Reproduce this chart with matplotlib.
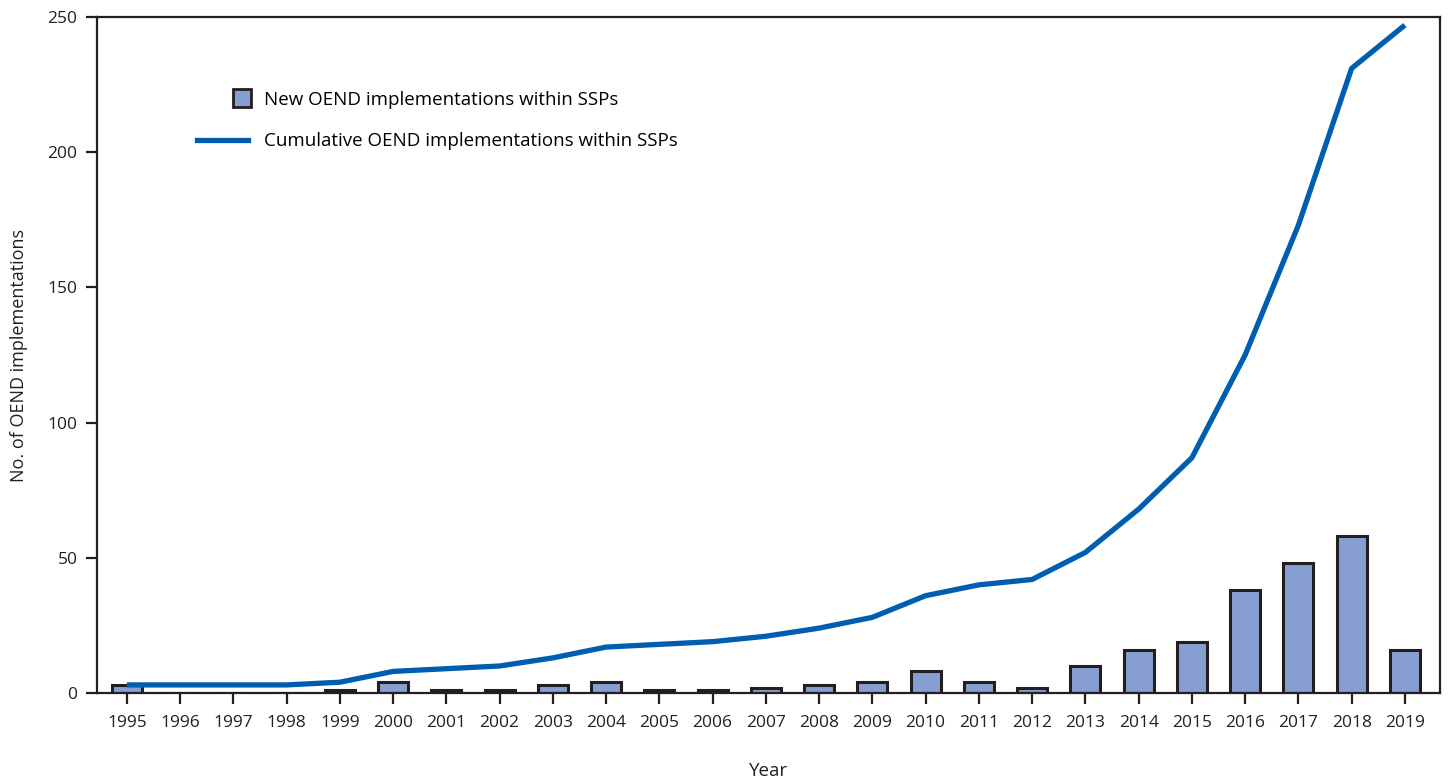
import matplotlib.pyplot as plt
from matplotlib.lines import Line2D
import numpy as np

plt.rcParams['font.family'] = ['Open Sans', 'DejaVu Sans']

years = list(range(1995, 2020))
new_impl = [3, 0, 0, 0, 1, 4, 1, 1, 3, 4, 1, 1, 2, 3, 4, 8, 4, 2, 10, 16, 19, 38, 48, 58, 16]
cumulative = [3, 3, 3, 3, 4, 8, 9, 10, 13, 17, 18, 19, 21, 24, 28, 36, 40, 42, 52, 68, 87, 125, 173, 231, 247]

bar_color = '#869fd0'
edge_color = '#231f20'
line_color = '#005eb0'

fig = plt.figure(figsize=(14.48, 7.8), dpi=100)
ax = fig.add_axes([0.067, 0.1115, 0.9275, 0.8667])

ax.bar(years, new_impl, width=0.56, color=bar_color, edgecolor=edge_color, linewidth=2.2, zorder=2)
ax.plot(years, cumulative, color=line_color, linewidth=3.8, zorder=3, solid_capstyle='butt')

ax.set_xlim(1994.44, 2019.66)
ax.set_ylim(0, 250)
ax.set_xticks(years)
ax.set_xticklabels([str(y) for y in years])
ax.set_yticks([0, 50, 100, 150, 200, 250])

for s in ax.spines.values():
    s.set_color(edge_color)
    s.set_linewidth(1.6)
ax.tick_params(axis='both', labelsize=12.5, colors='#231f20', length=8, width=1.6)
ax.tick_params(axis='y', pad=6)
ax.tick_params(axis='x', pad=8)

ax.set_xlabel('Year', fontsize=13.5, color='#231f20', labelpad=22)
ax.set_ylabel('No. of OEND implementations', fontsize=13, color='#231f20', labelpad=14)

handles = [
    Line2D([0], [0], marker='s', linestyle='none', markersize=13, markerfacecolor=bar_color,
           markeredgecolor=edge_color, markeredgewidth=2),
    Line2D([0], [0], color=line_color, linewidth=3.8),
]
labels = ['New OEND implementations within SSPs', 'Cumulative OEND implementations within SSPs']
leg = ax.legend(handles, labels, loc='upper left', bbox_to_anchor=(0.062, 0.916), frameon=False,
                fontsize=13.5, handlelength=2.7, handletextpad=0.85, labelspacing=1.25)
# push the square marker to the right end of its handle, like the reference
leg.legend_handles[0].set_xdata([2.7 * 13.5 * 0.88])

fig.savefig('out.png', dpi=100)
